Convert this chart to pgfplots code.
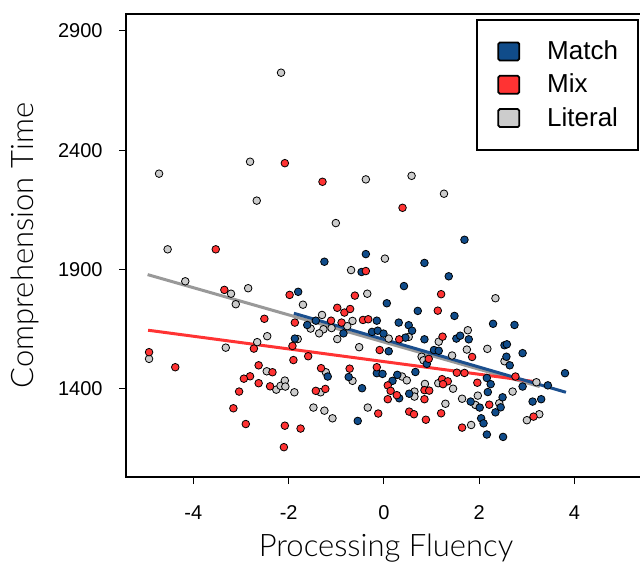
\documentclass[border=0pt]{standalone}
\usepackage{fontspec}
\setmainfont{Liberation Sans}
\newfontfamily\labelfont{Lato Light}
\usepackage{pgfplots}
\pgfplotsset{compat=1.18}

\definecolor{matchblue}{HTML}{104C8A}
\definecolor{mixred}{HTML}{FF3333}
\definecolor{litgray}{HTML}{CCCCCC}
\definecolor{litline}{HTML}{999999}
\definecolor{matchline}{HTML}{1B4F8E}

\pgfplotsset{
  pt/.style={only marks, mark=*, mark size=1.9pt,
    mark options={draw=black, line width=0.4pt, fill=#1}, forget plot},
  fit/.style={no marks, line width=1.5pt, draw=#1, forget plot},
  legsq/.style={legend image code/.code={
    \draw[fill=#1, draw=black, line width=0.9pt, rounded corners=0.8pt]
      (0pt,-4.5pt) rectangle (10.5pt,4.5pt);}},
}

\begin{document}
\begin{tikzpicture}
\useasboundingbox (-63pt,-42.5pt) rectangle (257pt,238.5pt);
\begin{axis}[
  at={(0,0)}, anchor=south west,
  scale only axis, width=260pt, height=231.5pt,
  xmin=-5.414, xmax=5.5, ymin=1031, ymax=2971,
  xtick={-4,-2,0,2,4}, xticklabels={-4,-2,0,2,4},
  ytick={1400,1900,2400,2900}, yticklabels={1400,1900,2400,2900},
  xtick pos=bottom, ytick pos=left,
  tick align=outside, major tick length=3.5pt,
  tick style={black, line width=0.5pt},
  axis line style={black, line width=1pt},
  tick label style={font=\fontsize{10}{12}\selectfont},
  xticklabel style={anchor=base, yshift=-17.5pt},
  yticklabel style={anchor=east, inner sep=0pt, xshift=-8pt},
  xlabel={Processing Fluency},
  ylabel={Comprehension Time},
  xlabel style={font=\labelfont\fontsize{15.5}{18}\selectfont,
    at={(axis description cs:0.5,-0.1721)}, anchor=base},
  ylabel style={font=\labelfont\fontsize{15.5}{18}\selectfont,
    at={(axis description cs:-0.1788,0.5)}, anchor=base},
  legend cell align=left,
  legend style={at={(axis description cs:1,1)}, anchor=north east,
    xshift=-3.5pt, yshift=-2.5pt, draw=black, line width=1pt, fill=white,
    inner xsep=10pt, inner ysep=10.25pt, row sep=5.75pt, column sep=13.5pt,
    nodes={inner sep=0pt}, font=\fontsize{13}{15}\selectfont},
]
% Literal
\addplot[pt=litgray] coordinates {
(-2.16,2725) (-4.72,2302) (-2.81,2352) (-0.38,2278) (-2.67,2189) (-1.01,2095)
(-4.54,1985) (0.58,2293) (1.26,2218)
(-0.69,1898) (-4.17,1851) (-0.35,1799) (-3.21,1799) (-2.85,1822) (-3.11,1755)
(-1.70,1753) (-1.30,1710) (-0.66,1685) (-1.54,1653) (-1.27,1650) (-1.36,1633)
(-1.10,1655) (-0.77,1663) (-2.45,1621) (-0.98,1609) (-1.81,1609) (-2.66,1596)
(-3.32,1573) (-0.52,1575) (-4.93,1526) (-1.22,1470) (-0.66,1434) (-2.46,1474)
(-2.26,1397) (-2.17,1413) (-2.08,1435) (-2.07,1410) (-1.88,1386) (-1.33,1386)
(-1.48,1322) (-1.25,1309) (-0.34,1322) (-1.08,1277)
(0.02,1946) (2.34,1780) (0.52,1618) (0.10,1611) (1.15,1598) (1.76,1646)
(1.74,1565) (2.17,1568) (1.43,1540) (0.79,1535) (0.83,1520) (2.53,1516)
(0.38,1452) (0.48,1436) (1.14,1424) (0.86,1421) (1.45,1401) (0.64,1389)
(0.64,1368) (1.29,1338) (1.64,1359) (1.97,1372) (1.92,1333) (2.42,1340)
(2.70,1389) (3.26,1294) (3.00,1269) (1.83,1249) (3.20,1428)
};
% Match
\addplot[pt=matchblue] coordinates {
(1.69,2025)
(-0.38,1965) (-1.25,1933) (-0.47,1890) (-1.80,1807) (-1.43,1686) (-1.61,1668)
(-0.15,1686) (-0.85,1633) (-0.25,1639) (-0.13,1644) (-1.87,1611) (-0.15,1466)
(-1.18,1452) (-0.74,1450) (-0.46,1403) (-0.55,1266)
(0.85,1928) (1.36,1872) (0.42,1831) (0.06,1759) (0.71,1727) (1.48,1706)
(2.29,1673) (2.74,1668) (0.31,1678) (0.52,1667) (0.59,1644) (-0.01,1632)
(0.45,1615) (0.85,1608) (1.52,1611) (1.60,1623) (1.78,1608) (0.10,1558)
(1.05,1563) (1.15,1560) (2.53,1583) (2.58,1587) (2.91,1550) (2.57,1535)
(0.90,1505) (2.64,1499) (-0.03,1463) (0.66,1471) (0.28,1459) (0.18,1434)
(2.16,1446) (2.24,1420) (0.32,1361) (0.53,1380) (1.82,1347) (2.01,1322)
(2.18,1387) (2.45,1323) (2.49,1365) (2.34,1302) (3.12,1347) (3.30,1357)
(3.80,1466) (2.04,1277) (2.09,1256) (2.16,1209) (2.50,1199) (2.91,1410)
(3.44,1415)
};
% Mix
\addplot[pt=mixred] coordinates {
(-2.08,2346) (-1.29,2268) (-3.53,1985) (0.39,2159)
(-3.35,1815) (-1.98,1794) (-0.61,1791) (-0.98,1740) (-0.83,1720) (-0.71,1735)
(-0.38,1894) (-2.51,1694) (-1.11,1686) (-1.87,1678) (-0.89,1678) (-0.44,1689)
(-0.33,1692) (-2.73,1569) (-1.92,1580) (-0.09,1563) (-4.93,1554) (-1.90,1521)
(-1.59,1537) (-4.38,1491) (-2.63,1499) (-1.32,1487) (-0.72,1485) (-0.15,1491)
(-2.34,1470) (-2.81,1453) (-2.94,1443) (-2.63,1424) (-2.39,1411) (-3.04,1389)
(-1.43,1392) (-1.23,1400) (-3.16,1319) (-0.12,1297) (-2.90,1253) (-2.08,1246)
(-1.75,1234) (-2.10,1156)
(1.20,1797) (1.13,1728) (0.32,1608) (1.23,1619) (1.85,1534) (0.94,1526)
(1.53,1468) (1.69,1467) (1.22,1441) (1.34,1432) (1.24,1420) (1.96,1426)
(0.08,1415) (0.14,1392) (0.27,1374) (0.08,1357) (0.85,1395) (0.95,1393)
(0.85,1357) (2.21,1334) (3.14,1284) (0.53,1305) (0.63,1294) (0.88,1271)
(1.20,1298) (1.64,1238) (2.76,1452)
};
% fitted lines
\addplot[fit=litline] coordinates {(-4.96,1879) (3.27,1410)};
\addplot[fit=mixred] coordinates {(-4.95,1646) (3.26,1428)};
\addplot[fit=matchline] coordinates {(-1.89,1717) (3.82,1386)};
% legend
\addlegendimage{legsq=matchblue}\addlegendentry{Match}
\addlegendimage{legsq=mixred}\addlegendentry{Mix}
\addlegendimage{legsq=litgray}\addlegendentry{Literal}
\end{axis}
\end{tikzpicture}
\end{document}
